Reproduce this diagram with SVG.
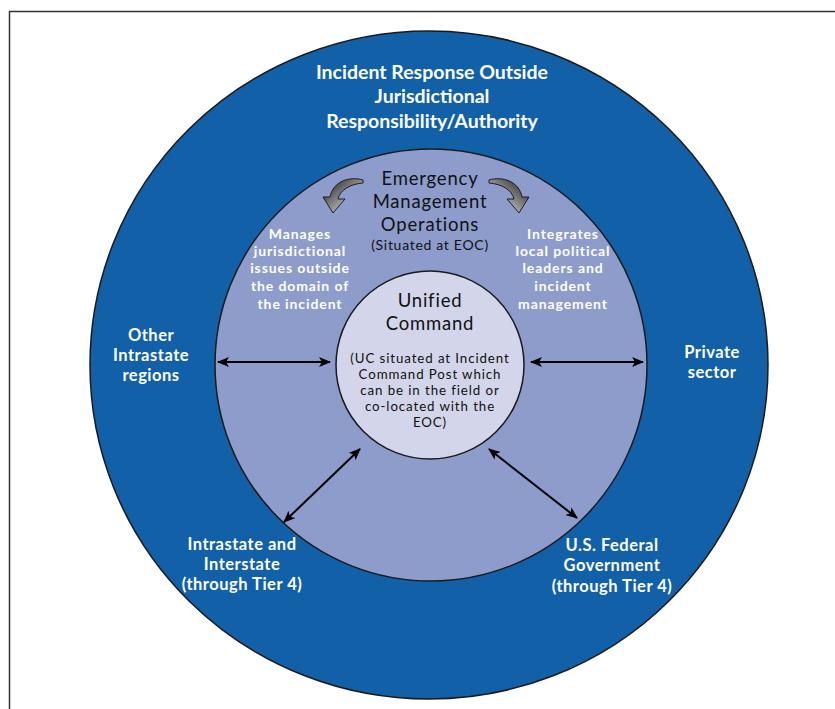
<svg xmlns="http://www.w3.org/2000/svg" width="835" height="709" viewBox="0 0 835 709">
  <defs>
    <style>
      .ring { stroke: #1a1a1a; stroke-width: 1.5; }
      .light { font-family: Lato, "Open Sans", "Liberation Sans", sans-serif; fill: #ffffff; text-anchor: middle; font-weight: 700; }
      .dark { font-family: Lato, "Open Sans", "Liberation Sans", sans-serif; fill: #111111; text-anchor: middle; }
      .note { font-size: 14px; letter-spacing: 0.9px; }
      .side { font-size: 16.5px; letter-spacing: 0.5px; }
      .head { font-size: 18.5px; letter-spacing: 0.8px; }
      .small { font-size: 13.3px; letter-spacing: 0.9px; }
      .link { stroke: #000; stroke-width: 2; fill: none; marker-start: url(#head); marker-end: url(#head); }
      .swoosh { fill: url(#swooshFill); stroke: #111; stroke-width: 0.9; }
    </style>
    <marker id="head" viewBox="0 0 12 10" refX="11" refY="5" markerWidth="12" markerHeight="10" markerUnits="userSpaceOnUse" orient="auto-start-reverse">
      <path d="M0,0 L12,5 L0,10 L3,5 Z" fill="#000"/>
    </marker>
    <linearGradient id="swooshFill" x1="0" y1="0" x2="1" y2="1">
      <stop offset="0" stop-color="#111111"/>
      <stop offset="0.5" stop-color="#8a8a8a"/>
      <stop offset="1" stop-color="#ffffff"/>
    </linearGradient>
  </defs>

  <rect width="835" height="709" fill="#ffffff"/>
  <!-- page frame -->
  <rect x="9.5" y="11.5" width="900" height="800" fill="none" stroke="#333" stroke-width="1.5"/>

  <!-- outer ring: outside jurisdiction -->
  <g id="outer">
    <ellipse class="ring" cx="429" cy="365" rx="339" ry="334" fill="#1260a8"/>
    <text class="light" font-size="19.5" x="432" y="79">Incident Response Outside</text>
    <text class="light" font-size="19.5" x="432" y="103">Jurisdictional</text>
    <text class="light" font-size="19.5" x="432" y="128">Responsibility/Authority</text>
  </g>

  <!-- middle ring: emergency management operations -->
  <g id="eoc">
    <circle class="ring" cx="431" cy="365" r="216" fill="#8e9ccc"/>
    <text class="dark head" x="430" y="185">Emergency</text>
    <text class="dark head" x="430" y="208">Management</text>
    <text class="dark head" x="430" y="231">Operations</text>
    <text class="dark" font-size="14" letter-spacing="0.7" x="430" y="250">(Situated at EOC)</text>
    <path class="swoosh" d="M363,180 C350,176 333,181 330,197 L323,197 L333,213 L345,199 L338,199 C340,190 350,184 363,183 Z"/>
    <path class="swoosh" transform="translate(852,0) scale(-1,1)" d="M363,180 C350,176 333,181 330,197 L323,197 L333,213 L345,199 L338,199 C340,190 350,184 363,183 Z"/>
  </g>

  <g id="manages">
    <text class="light note" x="300" y="239">Manages</text>
    <text class="light note" x="300" y="256">jurisdictional</text>
    <text class="light note" x="300" y="273">issues outside</text>
    <text class="light note" x="300" y="291">the domain of</text>
    <text class="light note" x="300" y="309">the incident</text>
  </g>

  <g id="integrates">
    <text class="light note" x="563" y="239">Integrates</text>
    <text class="light note" x="563" y="256">local political</text>
    <text class="light note" x="563" y="273">leaders and</text>
    <text class="light note" x="563" y="291">incident</text>
    <text class="light note" x="563" y="309">management</text>
  </g>

  <!-- inner circle: unified command -->
  <g id="unified">
    <circle class="ring" cx="430" cy="365" r="94" fill="#d3d6ea"/>
    <text class="dark head" letter-spacing="1" x="430" y="307">Unified</text>
    <text class="dark head" letter-spacing="1" x="430" y="330">Command</text>
    <text class="dark small" x="430" y="363">(UC situated at Incident</text>
    <text class="dark small" x="430" y="379">Command Post which</text>
    <text class="dark small" x="430" y="395">can be in the field or</text>
    <text class="dark small" x="430" y="411">co-located with the</text>
    <text class="dark small" x="430" y="427">EOC)</text>
  </g>

  <g id="other-intrastate">
    <text class="light side" x="151" y="341">Other</text>
    <text class="light side" x="151" y="361">Intrastate</text>
    <text class="light side" x="151" y="381">regions</text>
  </g>

  <g id="private">
    <text class="light side" x="712" y="358">Private</text>
    <text class="light side" x="712" y="378">sector</text>
  </g>

  <g id="intrastate-interstate">
    <text class="light side" x="242" y="550">Intrastate and</text>
    <text class="light side" x="242" y="570">Interstate</text>
    <text class="light side" x="242" y="590">(through Tier 4)</text>
  </g>

  <g id="federal">
    <text class="light side" x="612" y="551">U.S. Federal</text>
    <text class="light side" x="612" y="571">Government</text>
    <text class="light side" x="612" y="592">(through Tier 4)</text>
  </g>

  <!-- two-way links between unified command and partners -->
  <g id="connectors">
    <line class="link" x1="218" y1="362" x2="330" y2="362"/>
    <line class="link" x1="531" y1="362" x2="643" y2="362"/>
    <line class="link" x1="360" y1="449" x2="284" y2="522"/>
    <line class="link" x1="489" y1="449" x2="577" y2="518"/>
  </g>
</svg>
